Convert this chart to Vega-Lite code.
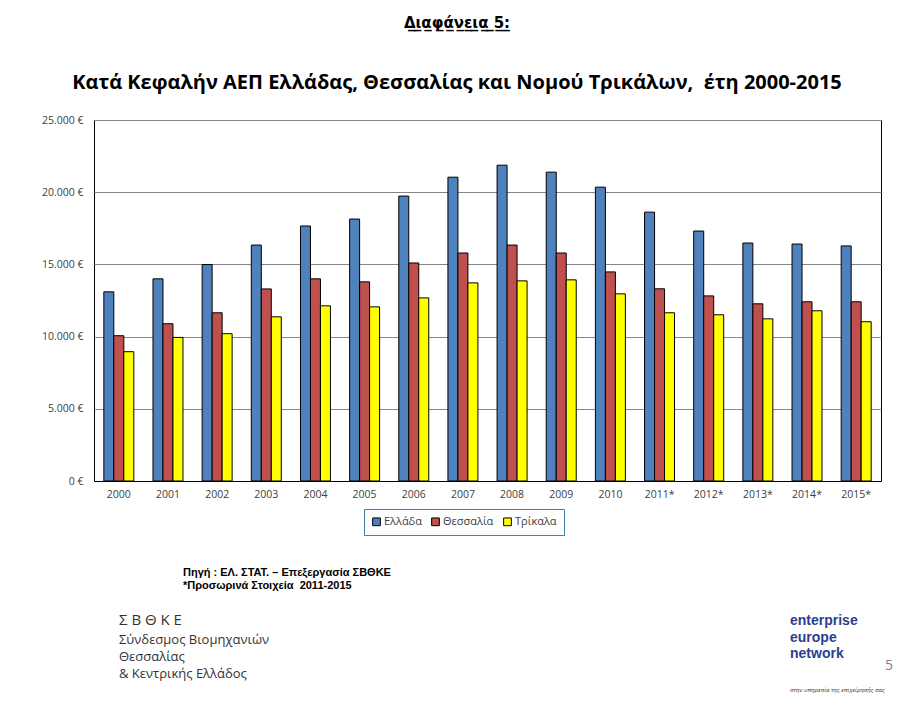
{
  "$schema": "https://vega.github.io/schema/vega-lite/v6.json",
  "background": "white",
  "padding": {"left": 40, "top": 15, "right": 5, "bottom": 0},
  "title": {
    "text": "Δ\u0332ι\u0332α\u0332φ\u0332ά\u0332ν\u0332ε\u0332ι\u0332α\u0332 \u03325\u0332:\u0332",
    "subtitle": "Κατά Κεφαλήν ΑΕΠ Ελλάδας, Θεσσαλίας και Νομού Τρικάλων,\u00a0 έτη 2000-2015",
    "anchor": "middle",
    "dx": -16,
    "font": "DejaVu Sans",
    "fontSize": 15,
    "fontWeight": "bold",
    "color": "black",
    "subtitleFont": "Open Sans",
    "subtitleFontSize": 20,
    "subtitleFontWeight": "bold",
    "subtitleColor": "black",
    "subtitlePadding": 42,
    "offset": 22
  },
  "data": {
    "values": [
      {"year": "2000", "region": "Ελλάδα", "value": 13100},
      {"year": "2000", "region": "Θεσσαλία", "value": 10060},
      {"year": "2000", "region": "Τρίκαλα", "value": 8955},
      {"year": "2001", "region": "Ελλάδα", "value": 14000},
      {"year": "2001", "region": "Θεσσαλία", "value": 10890},
      {"year": "2001", "region": "Τρίκαλα", "value": 9945},
      {"year": "2002", "region": "Ελλάδα", "value": 14990},
      {"year": "2002", "region": "Θεσσαλία", "value": 11650},
      {"year": "2002", "region": "Τρίκαλα", "value": 10200},
      {"year": "2003", "region": "Ελλάδα", "value": 16340},
      {"year": "2003", "region": "Θεσσαλία", "value": 13300},
      {"year": "2003", "region": "Τρίκαλα", "value": 11370},
      {"year": "2004", "region": "Ελλάδα", "value": 17660},
      {"year": "2004", "region": "Θεσσαλία", "value": 14000},
      {"year": "2004", "region": "Τρίκαλα", "value": 12130},
      {"year": "2005", "region": "Ελλάδα", "value": 18140},
      {"year": "2005", "region": "Θεσσαλία", "value": 13790},
      {"year": "2005", "region": "Τρίκαλα", "value": 12060},
      {"year": "2006", "region": "Ελλάδα", "value": 19730},
      {"year": "2006", "region": "Θεσσαλία", "value": 15100},
      {"year": "2006", "region": "Τρίκαλα", "value": 12680},
      {"year": "2007", "region": "Ελλάδα", "value": 21040},
      {"year": "2007", "region": "Θεσσαλία", "value": 15790},
      {"year": "2007", "region": "Τρίκαλα", "value": 13720},
      {"year": "2008", "region": "Ελλάδα", "value": 21870},
      {"year": "2008", "region": "Θεσσαλία", "value": 16340},
      {"year": "2008", "region": "Τρίκαλα", "value": 13860},
      {"year": "2009", "region": "Ελλάδα", "value": 21390},
      {"year": "2009", "region": "Θεσσαλία", "value": 15790},
      {"year": "2009", "region": "Τρίκαλα", "value": 13930},
      {"year": "2010", "region": "Ελλάδα", "value": 20350},
      {"year": "2010", "region": "Θεσσαλία", "value": 14480},
      {"year": "2010", "region": "Τρίκαλα", "value": 12960},
      {"year": "2011*", "region": "Ελλάδα", "value": 18620},
      {"year": "2011*", "region": "Θεσσαλία", "value": 13310},
      {"year": "2011*", "region": "Τρίκαλα", "value": 11650},
      {"year": "2012*", "region": "Ελλάδα", "value": 17310},
      {"year": "2012*", "region": "Θεσσαλία", "value": 12820},
      {"year": "2012*", "region": "Τρίκαλα", "value": 11510},
      {"year": "2013*", "region": "Ελλάδα", "value": 16480},
      {"year": "2013*", "region": "Θεσσαλία", "value": 12270},
      {"year": "2013*", "region": "Τρίκαλα", "value": 11230},
      {"year": "2014*", "region": "Ελλάδα", "value": 16410},
      {"year": "2014*", "region": "Θεσσαλία", "value": 12410},
      {"year": "2014*", "region": "Τρίκαλα", "value": 11790},
      {"year": "2015*", "region": "Ελλάδα", "value": 16280},
      {"year": "2015*", "region": "Θεσσαλία", "value": 12410},
      {"year": "2015*", "region": "Τρίκαλα", "value": 11030}
    ]
  },
  "resolve": {"legend": {"color": "independent"}},
  "spacing": 22,
  "vconcat": [
    {
      "width": 787,
      "height": 361,
      "title": {
        "text": ["Πηγή : ΕΛ. ΣΤΑΤ. – Επεξεργασία ΣΒΘΚΕ", "\u00a0*Προσωρινά Στοιχεία \u00a02011-2015"],
        "orient": "bottom",
        "anchor": "start",
        "frame": "group",
        "dx": 89,
        "font": "Liberation Sans",
        "fontSize": 11,
        "fontWeight": "bold",
        "color": "black",
        "lineHeight": 13,
        "offset": 31
      },
      "mark": {"type": "bar", "stroke": "black", "strokeWidth": 1},
      "encoding": {
        "x": {
          "field": "year",
          "type": "nominal",
          "sort": null,
          "title": null,
          "scale": {"paddingInner": 0.39, "paddingOuter": 0.2},
          "axis": {
            "labelAngle": 0,
            "ticks": false,
            "domainColor": "black",
            "labelPadding": 8,
            "labelFont": "Open Sans",
            "labelFontSize": 10.5,
            "labelColor": "#404040"
          }
        },
        "xOffset": {
          "field": "region",
          "type": "nominal",
          "sort": ["Ελλάδα", "Θεσσαλία", "Τρίκαλα"],
          "scale": {"paddingInner": 0, "paddingOuter": 0}
        },
        "y": {
          "field": "value",
          "type": "quantitative",
          "title": null,
          "scale": {"domain": [0, 25000], "nice": false},
          "axis": {
            "values": [0, 5000, 10000, 15000, 20000, 25000],
            "labelExpr": "replace(format(datum.value, ','), ',', '.') + ' €'",
            "ticks": false,
            "domain": false,
            "labelPadding": 11,
            "labelFont": "Open Sans",
            "labelFontSize": 10.5,
            "labelColor": "#404040",
            "gridColor": "#868686",
            "gridWidth": 1,
            "gridOpacity": 1
          }
        },
        "color": {
          "field": "region",
          "type": "nominal",
          "title": null,
          "sort": ["Ελλάδα", "Θεσσαλία", "Τρίκαλα"],
          "scale": {
            "domain": ["Ελλάδα", "Θεσσαλία", "Τρίκαλα"],
            "range": ["#4F81BD", "#C0504D", "#FFFF00"]
          },
          "legend": {
            "orient": "none",
            "legendX": 270,
            "legendY": 389,
            "direction": "horizontal",
            "strokeColor": "#3F7FB0",
            "padding": 7,
            "symbolType": "square",
            "symbolSize": 60,
            "symbolStrokeColor": "black",
            "symbolStrokeWidth": 1,
            "symbolOpacity": 1,
            "labelFont": "Open Sans",
            "labelFontSize": 11,
            "labelColor": "#404040",
            "labelOffset": 2,
            "columnPadding": 7
          }
        }
      }
    },
    {
      "hconcat": [
        {
          "width": 696,
          "height": 1,
          "data": {"values": []},
          "mark": {"type": "point", "opacity": 0},
          "view": {"stroke": null},
          "title": {
            "text": "Σ Β Θ Κ Ε",
            "subtitle": ["Σύνδεσμος Βιομηχανιών", "Θεσσαλίας", "& Κεντρικής Ελλάδος"],
            "anchor": "start",
            "frame": "group",
            "dx": 25,
            "offset": -1,
            "font": "Open Sans",
            "fontSize": 15,
            "fontWeight": "normal",
            "color": "#333333",
            "subtitleFont": "Open Sans",
            "subtitleFontSize": 13,
            "subtitleColor": "#333333",
            "subtitleLineHeight": 17,
            "subtitlePadding": 6
          }
        },
        {
          "width": 74,
          "height": 1,
          "data": {"values": []},
          "mark": {"type": "point", "opacity": 0},
          "view": {"stroke": null},
          "title": {
            "text": ["enterprise", "europe", "network"],
            "subtitle": "στην υπηρεσία της επιχείρησής σας",
            "anchor": "start",
            "frame": "group",
            "dx": 0,
            "offset": -13,
            "font": "Liberation Sans",
            "fontSize": 14,
            "fontWeight": "bold",
            "color": "#2B3F8C",
            "lineHeight": 16.5,
            "subtitleFont": "Open Sans",
            "subtitleFontSize": 6,
            "subtitleFontStyle": "italic",
            "subtitleColor": "#333333",
            "subtitlePadding": 26
          }
        },
        {
          "width": 10,
          "height": 1,
          "data": {"values": []},
          "mark": {"type": "point", "opacity": 0},
          "view": {"stroke": null},
          "title": {
            "text": "5",
            "anchor": "start",
            "frame": "group",
            "dx": -10,
            "offset": 7,
            "font": "Open Sans",
            "fontSize": 14,
            "fontWeight": "normal",
            "color": "#7F7F7F"
          }
        }
      ],
      "spacing": 0
    }
  ],
  "config": {
    "view": {"stroke": "black", "strokeWidth": 1},
    "axis": {"grid": true},
    "axisX": {"grid": false}
  }
}
